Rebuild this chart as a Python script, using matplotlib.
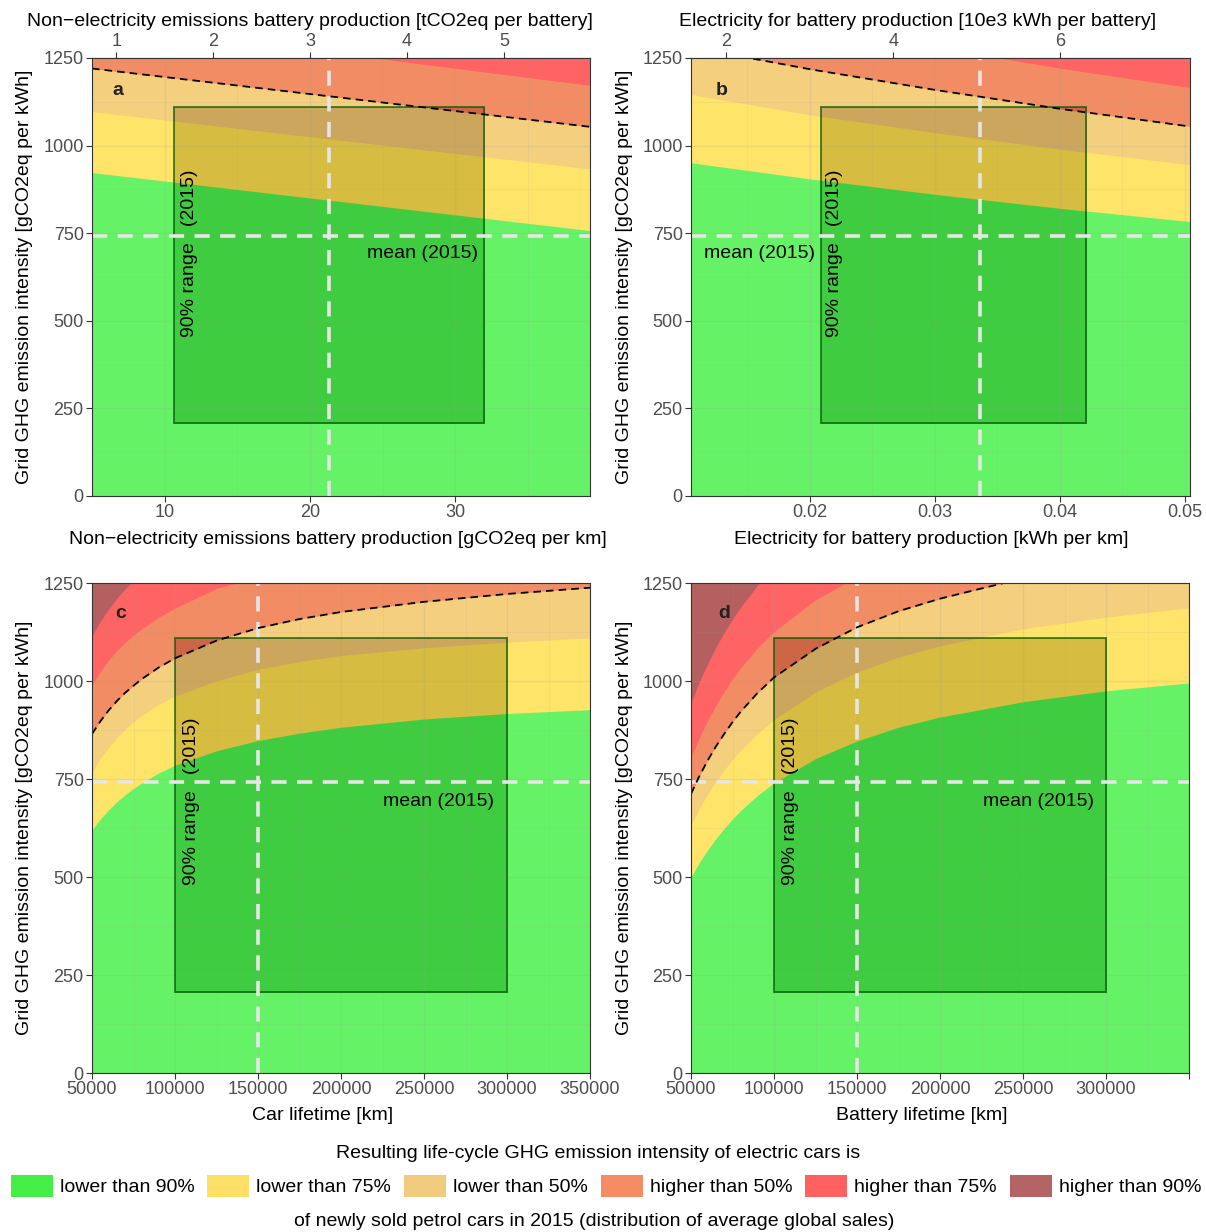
import matplotlib.pyplot as plt
import matplotlib.patches as mpatches
import numpy as np

plt.rcParams['font.family'] = ['Liberation Sans', 'DejaVu Sans']

W, H = 1206, 1232

band_labels = ['lower than 90%', 'lower than 75%', 'lower than 50%',
               'higher than 50%', 'higher than 75%', 'higher than 90%']
band_colors = ['#66F266', '#FFE46A', '#F3CF7E', '#F28C64', '#FF6464', '#B46060']
band_colors_in = ['#40CC40', '#D6BC40', '#CCA65C', '#CC6644', '#D94040', '#8E3C3C']
legend_colors = ['#44EE44', '#FFE066', '#F2CC7E', '#F58C64', '#FF6060', '#B46464']

y_lim = [0, 1250]
grid_mean = 742
grid_range = [207, 1109]

# panel a: non-electricity emissions of battery production [gCO2eq per km]
a_x = [5, 40]
a_bounds = [[923, 754], [1097, 930], [1220, 1050], [1352, 1168]]
a_mean = 21.3
a_range = [10.64, 31.96]

# panel b: electricity for battery production [kWh per km]
b_x = [0.0105, 0.02, 0.03, 0.04, 0.0505]
b_bounds = [[951, 905, 861, 821, 783],
            [1146, 1088, 1037, 990, 945],
            [1281, 1218, 1159, 1105, 1054],
            [1416, 1347, 1281, 1221, 1165]]
b_mean = 0.0336
b_range = [0.0209, 0.0421]

# panel c: car lifetime [km]
c_x = [50000, 55000, 60000, 65000, 70000, 75000, 80000, 90000, 100000,
       125000, 150000, 175000, 200000, 250000, 300000, 350000]
c_bounds = [[620, 648, 671, 692, 710, 726, 740, 765, 785, 822, 848, 867, 882, 903, 917, 927],
            [768, 803, 831, 856, 877, 896, 912, 940, 962, 1000, 1030, 1050, 1065, 1085, 1099, 1110],
            [865, 897, 925, 949, 970, 988, 1005, 1034, 1058, 1103, 1135, 1158, 1176, 1202, 1222, 1238],
            [990, 1024, 1053, 1078, 1099, 1117, 1133, 1162, 1186, 1236, 1266, 1290, 1307, 1332, 1348, 1360],
            [1115, 1152, 1183, 1211, 1235, 1256, 1275, 1308, 1334, 1380, 1412, 1436, 1453, 1477, 1493, 1505]]
c_mean = 150000
c_range = [100000, 300000]

# panel d: battery lifetime [km]
d_x = c_x
d_bounds = [[500, 537, 569, 598, 624, 648, 670, 708, 740, 802, 847, 882, 908, 947, 975, 995],
            [633, 675, 711, 744, 773, 800, 824, 866, 902, 972, 1023, 1061, 1090, 1133, 1163, 1187],
            [712, 757, 797, 833, 865, 895, 922, 969, 1009, 1082, 1137, 1178, 1210, 1262, 1293, 1317],
            [805, 855, 899, 938, 973, 1005, 1034, 1084, 1126, 1207, 1266, 1310, 1345, 1395, 1430, 1455],
            [945, 998, 1044, 1086, 1124, 1158, 1189, 1244, 1290, 1380, 1445, 1494, 1532, 1588, 1628, 1657]]
d_mean = 150000
d_range = [100000, 300000]

ylabel = 'Grid GHG emission intensity [gCO2eq per kWh]'
tick_style = dict(length=4, width=0.8, color='#333333', labelcolor='#4D4D4D',
                  labelsize=13, pad=2)


def box(l, t, r, b):
    return [l / W, 1 - b / H, (r - l) / W, (b - t) / H]


def bands(ax, x, bounds, colors, clip=None):
    x = np.asarray(x, float)
    edges = [np.asarray(b, float) for b in bounds] + [np.full(len(x), 1e4)]
    # stack from top to bottom so neighbouring fills leave no seams
    for i in range(len(edges) - 1, -1, -1):
        pc = ax.fill_between(x, 0, edges[i], color=colors[i], lw=0, zorder=1)
        if clip is not None:
            pc.set_clip_path(clip)


def draw_panel(ax, x, bounds, mean_x, range_x, letter, mean_pos, xlim):
    ax.set_xlim(xlim)
    ax.set_ylim(y_lim)
    bands(ax, x, bounds, band_colors)
    rect = mpatches.Rectangle((range_x[0], grid_range[0]), range_x[1] - range_x[0],
                              grid_range[1] - grid_range[0], transform=ax.transData,
                              facecolor='none', edgecolor='none')
    ax.add_patch(rect)
    bands(ax, x, bounds, band_colors_in, clip=rect)
    ax.add_patch(mpatches.Rectangle((range_x[0], grid_range[0]), range_x[1] - range_x[0],
                                    grid_range[1] - grid_range[0], facecolor='none',
                                    edgecolor=(0.0, 0.35, 0.0, 0.75), lw=1.3, zorder=2))
    ax.set_yticks(np.arange(0, 1251, 250))
    ax.set_yticks(np.arange(125, 1250, 250), minor=True)
    ax.grid(True, which='major', color='#9E9E9E', alpha=0.18, lw=1.0, zorder=3)
    ax.grid(True, which='minor', color='#9E9E9E', alpha=0.12, lw=0.6, zorder=3)
    ax.tick_params(which='minor', length=0)
    dash = dict(color='#E6E6E6', lw=2.6, ls=(0, (4.2, 2.9)), zorder=4)
    ax.axhline(grid_mean, **dash)
    ax.axvline(mean_x, **dash)
    ax.plot(np.asarray(x, float), bounds[2], color='black', lw=1.3,
            ls=(0, (4.2, 2.8)), zorder=5)
    tx = range_x[0] + 0.05 * (range_x[1] - range_x[0])
    ax.text(tx, 693, '90% range   (2015)', rotation=90, ha='center', va='center',
            fontsize=14, zorder=6)
    ax.text(mean_pos[0], 692, 'mean (2015)', ha=mean_pos[1], va='center',
            fontsize=14, zorder=6)
    ax.text(letter[1], letter[2], letter[0], transform=ax.transAxes, fontsize=14,
            fontweight='bold', ha='center', va='center', color='#222222', zorder=6)
    for s in ax.spines.values():
        s.set_color('#333333')
        s.set_linewidth(0.8)
        s.set_zorder(7)
    ax.tick_params(which='major', **tick_style)
    ax.set_ylabel(ylabel, fontsize=14)


fig = plt.figure(figsize=(W / 100, H / 100), dpi=100)

ax_a = fig.add_axes(box(92, 58, 590, 496))
draw_panel(ax_a, a_x, a_bounds, a_mean, a_range, ('a', 0.052, 0.926),
           (31.53, 'right'), (5.36, 39.26))
ax_a.set_xticks([10, 20, 30])
ax_a.set_xticks([5, 15, 25, 35], minor=True)
ax_a.set_xlabel('Non\u2212electricity emissions battery production [gCO2eq per km]', fontsize=14)
ax_a.xaxis.set_label_coords(0.494, -0.08)
ax_a.yaxis.set_label_coords(-0.118, 0.5)
sec_a = ax_a.secondary_xaxis('top', functions=(lambda v: v * 0.15, lambda v: v / 0.15))
sec_a.set_xticks([1, 2, 3, 4, 5])
sec_a.tick_params(**tick_style)
sec_a.spines['top'].set_color('#333333')
sec_a.set_xlabel('Non\u2212electricity emissions battery production [tCO2eq per battery]',
                 fontsize=14, labelpad=5)
sec_a.xaxis.label.set_x(0.438)

ax_b = fig.add_axes(box(691, 58, 1190, 496))
draw_panel(ax_b, b_x, b_bounds, b_mean, b_range, ('b', 0.062, 0.926),
           (0.0115, 'left'), (0.0105, 0.0504))
ax_b.set_xticks([0.02, 0.03, 0.04, 0.05])
ax_b.set_xticklabels(['0.02', '0.03', '0.04', '0.05'])
ax_b.set_xticks([0.015, 0.025, 0.035, 0.045], minor=True)
ax_b.set_xlabel('Electricity for battery production [kWh per km]', fontsize=14)
ax_b.xaxis.set_label_coords(0.482, -0.08)
ax_b.yaxis.set_label_coords(-0.116, 0.5)
sec_b = ax_b.secondary_xaxis('top', functions=(lambda v: v * 150, lambda v: v / 150))
sec_b.set_xticks([2, 4, 6])
sec_b.tick_params(**tick_style)
sec_b.spines['top'].set_color('#333333')
sec_b.set_xlabel('Electricity for battery production [10e3 kWh per battery]',
                 fontsize=14, labelpad=5)
sec_b.xaxis.label.set_x(0.455)

ax_c = fig.add_axes(box(92, 583, 590, 1073))
draw_panel(ax_c, c_x, c_bounds, c_mean, c_range, ('c', 0.058, 0.938),
           (292000, 'right'), (50000, 350000))
ax_c.set_xticks(np.arange(50000, 350001, 50000))
ax_c.set_xticklabels([str(v) for v in range(50000, 350001, 50000)])
ax_c.set_xticks(np.arange(75000, 350000, 50000), minor=True)
ax_c.set_xlabel('Car lifetime [km]', fontsize=14)
ax_c.xaxis.set_label_coords(0.462, -0.07)
ax_c.yaxis.set_label_coords(-0.118, 0.5)

ax_d = fig.add_axes(box(691, 583, 1189, 1073))
draw_panel(ax_d, d_x, d_bounds, d_mean, d_range, ('d', 0.066, 0.938),
           (293000, 'right'), (50000, 350000))
ax_d.set_xticks(np.arange(50000, 350001, 50000))
ax_d.set_xticklabels([str(v) for v in range(50000, 300001, 50000)] + [''])
ax_d.set_xticks(np.arange(75000, 350000, 50000), minor=True)
ax_d.set_xlabel('Battery lifetime [km]', fontsize=14)
ax_d.xaxis.set_label_coords(0.464, -0.07)
ax_d.yaxis.set_label_coords(-0.116, 0.5)

handles = [mpatches.Patch(facecolor=c, edgecolor='none') for c in legend_colors]
fig.legend(handles, band_labels, loc='center', bbox_to_anchor=(606 / W, 1 - 1186 / H),
           ncol=6, frameon=False, fontsize=14, handlelength=2.16, handleheight=1.39,
           handletextpad=0.36, columnspacing=0.66)
fig.text(598 / W, 1 - 1153 / H, 'Resulting life-cycle GHG emission intensity of electric cars is',
         ha='center', va='center', fontsize=14)
fig.text(594 / W, 1 - 1221 / H,
         'of newly sold petrol cars in 2015 (distribution of average global sales)',
         ha='center', va='center', fontsize=14)

fig.savefig('out.png', dpi=100)
